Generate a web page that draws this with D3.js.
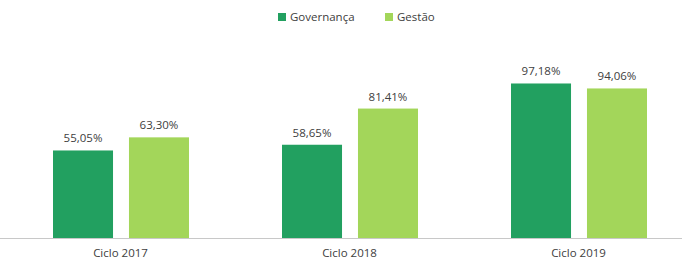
<!DOCTYPE html>
<html><head><meta charset="utf-8">
<script src="https://cdn.jsdelivr.net/npm/d3@7"></script>
<style>html,body{margin:0;padding:0;background:#fff;}svg{display:block;}</style>
</head><body>
<svg id="c" width="682" height="261"></svg>
<script>
const categories = ["Ciclo 2017", "Ciclo 2018", "Ciclo 2019"];
const seriesNames = ["Governança", "Gestão"];
const governanca = [55.05, 58.65, 97.18];
const gestao = [63.30, 81.41, 94.06];
const colors = ["#22a060", "#a3d65a"];

const values = [governanca, gestao];
const fmt = v => v.toFixed(2).replace(".", ",") + "%";
const svg = d3.select("#c");
const font = "'Open Sans', sans-serif";

const x0 = d3.scaleBand().domain(categories).range([6, 693]);
const x1 = d3.scaleBand().domain(seriesNames).range([47, 183]).paddingInner(0.21);
const y = d3.scaleLinear().domain([0, 100]).range([238, 79]);

// baseline
svg.append("line").attr("x1", 0).attr("x2", 682).attr("y1", y(0) + 0.5).attr("y2", y(0) + 0.5)
  .attr("stroke", "#c8c8c8").attr("stroke-width", 1);

const g = svg.append("g");
seriesNames.forEach((s, si) => {
  categories.forEach((c, ci) => {
    const v = values[si][ci];
    const bx = x0(c) + x1(s);
    g.append("rect").attr("x", bx).attr("y", y(v)).attr("width", x1.bandwidth())
      .attr("height", y(0) - y(v)).attr("fill", colors[si]);
    g.append("text").attr("x", bx + x1.bandwidth() / 2).attr("y", y(v) - 8)
      .attr("text-anchor", "middle").attr("font-family", font).attr("font-size", 11.5)
      .attr("fill", "#404040").text(fmt(v));
  });
});

// category labels
const xAxis = d3.axisBottom(x0).tickSize(0).tickPadding(0);
const ax = svg.append("g").attr("transform", `translate(0,${y(0) + 19})`).call(xAxis);
ax.select(".domain").remove();
ax.selectAll("text").attr("font-family", font).attr("font-size", 11.5).attr("fill", "#404040").attr("dy", "0");

// legend
const legX = [278, 385];
const leg = svg.append("g");
seriesNames.forEach((s, i) => {
  leg.append("rect").attr("x", legX[i]).attr("y", 13).attr("width", 8).attr("height", 8).attr("fill", colors[i]);
  leg.append("text").attr("x", legX[i] + 12).attr("y", 21).attr("font-family", font).attr("font-size", 11.5)
    .attr("fill", "#404040").text(s);
});
</script>
</body></html>
